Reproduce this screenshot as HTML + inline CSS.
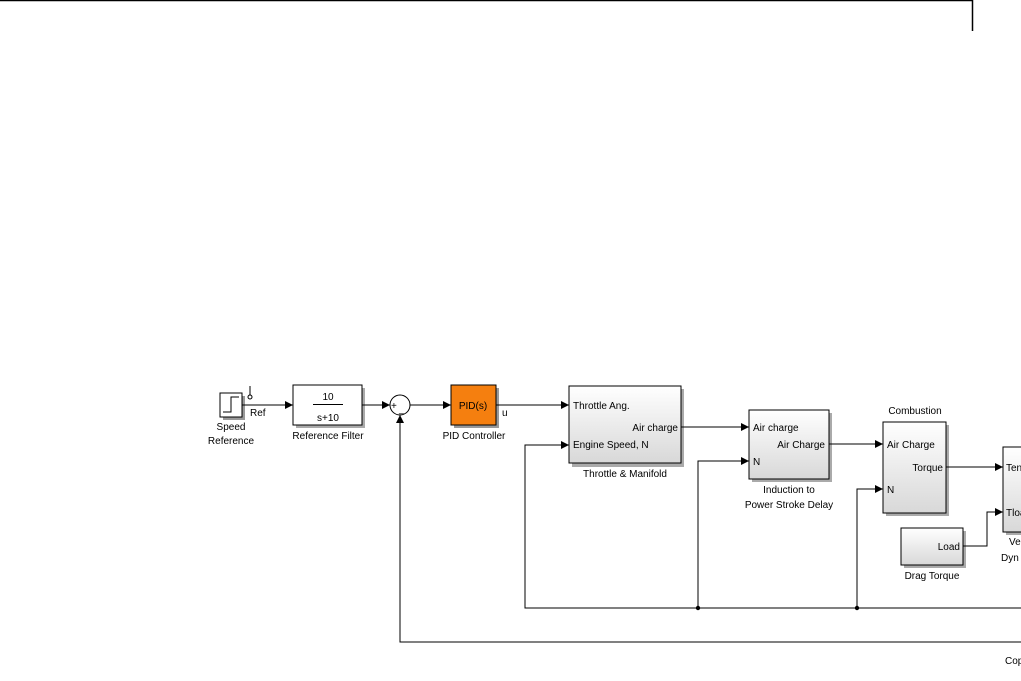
<!DOCTYPE html>
<html><head><meta charset="utf-8"><style>
html,body{margin:0;padding:0;background:#fff;width:1021px;height:681px;overflow:hidden}
svg text{font-family:"Liberation Sans",sans-serif;font-size:10px;fill:#000}
</style></head><body>
<svg width="1021" height="681" viewBox="0 0 1021 681" xmlns="http://www.w3.org/2000/svg">
<defs>
<linearGradient id="g" x1="0" y1="0" x2="0" y2="1"><stop offset="0" stop-color="#ffffff"/><stop offset="1" stop-color="#d8d8d8"/></linearGradient>
<marker id="a" markerWidth="8" markerHeight="8" refX="8" refY="4" orient="auto" markerUnits="userSpaceOnUse"><path d="M0,0 L8,4 L0,8 z" fill="#000"/></marker>
</defs>
<path d="M0,0.5 H972.5 V31" fill="none" stroke="#000" stroke-width="1.5"/>
<g fill="none" stroke="#000" stroke-width="1">
<rect x="223" y="396" width="22" height="24" fill="#999" stroke="none"/>
<rect x="220" y="393" width="22" height="24" fill="#fff"/>
<path d="M223,412 H231 V397 H239"/>
<path d="M250,386 V395"/><circle cx="250" cy="397" r="2"/>
<path d="M242,405 H293" marker-end="url(#a)"/>
<rect x="296" y="388" width="69" height="40" fill="#aaa" stroke="none"/>
<rect x="293" y="385" width="69" height="40" fill="#fff"/>
<path d="M313,404.5 H343"/>
<path d="M362,405 H390" marker-end="url(#a)"/>
<circle cx="400" cy="405" r="10" fill="#fff"/>
<path d="M410,405 H451" marker-end="url(#a)"/>
<rect x="454" y="388" width="45" height="40" fill="#999" stroke="none"/>
<rect x="451" y="385" width="45" height="40" fill="#f57f0f"/>
<path d="M496,405 H569" marker-end="url(#a)"/>
<rect x="572" y="389" width="112" height="78" fill="#aaa" stroke="none"/>
<rect x="569" y="386" width="112" height="77" fill="url(#g)"/>
<path d="M681,427 H749" marker-end="url(#a)"/>
<rect x="752" y="413" width="80" height="69" fill="#aaa" stroke="none"/>
<rect x="749" y="410" width="80" height="69" fill="url(#g)"/>
<path d="M829,444 H883" marker-end="url(#a)"/>
<rect x="886" y="425" width="63" height="91" fill="#aaa" stroke="none"/>
<rect x="883" y="422" width="63" height="91" fill="url(#g)"/>
<path d="M946,467 H1003" marker-end="url(#a)"/>
<rect x="1006" y="450" width="30" height="85" fill="#aaa" stroke="none"/>
<rect x="1003" y="447" width="30" height="85" fill="url(#g)"/>
<rect x="904" y="531" width="62" height="37" fill="#aaa" stroke="none"/>
<rect x="901" y="528" width="62" height="37" fill="url(#g)"/>
<path d="M963,546 H987 V512 H1003" marker-end="url(#a)"/>
<path d="M1021,608 H525 V445 H569" marker-end="url(#a)"/>
<path d="M698,608 V461 H749" marker-end="url(#a)"/>
<path d="M857,608 V489 H883" marker-end="url(#a)"/>
<path d="M1021,642 H400 V415" marker-end="url(#a)"/>
</g>
<circle cx="698" cy="608" r="2.2"/><circle cx="857" cy="608" r="2.2"/>
<text x="250" y="416">Ref</text>
<text x="231" y="430" text-anchor="middle">Speed</text>
<text x="231" y="444" text-anchor="middle">Reference</text>
<text x="328" y="400" text-anchor="middle">10</text>
<text x="328" y="421" text-anchor="middle">s+10</text>
<text x="328" y="439" text-anchor="middle">Reference Filter</text>
<text x="391" y="409">+</text><text x="399" y="412">_</text>
<text x="473" y="409" text-anchor="middle">PID(s)</text>
<text x="502" y="416">u</text>
<text x="474" y="439" text-anchor="middle">PID Controller</text>
<text x="573" y="409">Throttle Ang.</text>
<text x="678" y="431" text-anchor="end">Air charge</text>
<text x="573" y="448">Engine Speed, N</text>
<text x="625" y="477" text-anchor="middle">Throttle &amp; Manifold</text>
<text x="753" y="431">Air charge</text>
<text x="825" y="448" text-anchor="end">Air Charge</text>
<text x="753" y="465">N</text>
<text x="789" y="493" text-anchor="middle">Induction to</text>
<text x="789" y="508" text-anchor="middle">Power Stroke Delay</text>
<text x="915" y="414" text-anchor="middle">Combustion</text>
<text x="887" y="448">Air Charge</text>
<text x="943" y="471" text-anchor="end">Torque</text>
<text x="887" y="493">N</text>
<text x="1006" y="471">Ten</text>
<text x="1006" y="516">Tloa</text>
<text x="1009" y="545">Ve</text>
<text x="1001" y="561">Dyn</text>
<text x="960" y="550" text-anchor="end">Load</text>
<text x="932" y="579" text-anchor="middle">Drag Torque</text>
<text x="1005" y="664">Cop</text>
</svg>
</body></html>
